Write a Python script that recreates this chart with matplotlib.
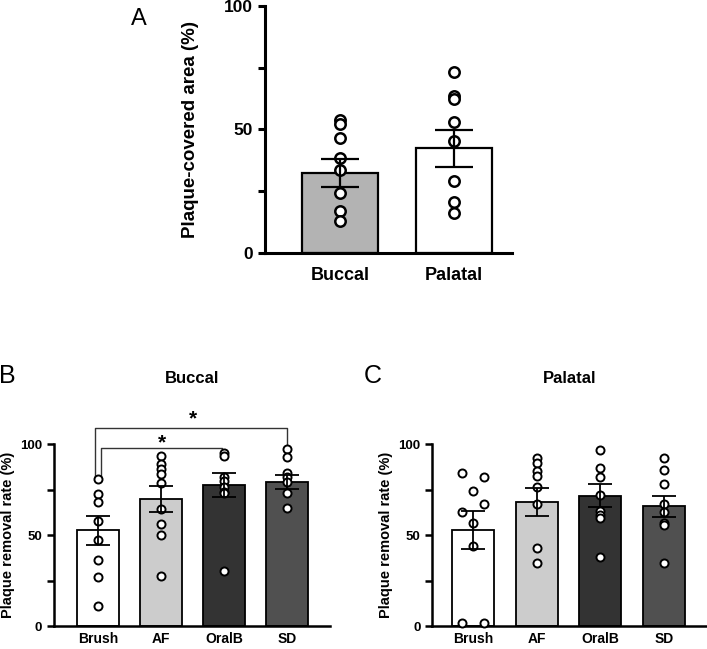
import matplotlib
matplotlib.use("Agg")
import matplotlib.pyplot as plt

plt.rcParams['font.family'] = ['Liberation Sans', 'DejaVu Sans']

# panel A: plaque-covered area
a_groups = ["Buccal", "Palatal"]
a_means = [32.4, 42.3]
a_sem = [5.5, 7.3]
a_points = [
    [53.8, 52.2, 46.5, 38.3, 33.6, 24.4, 17.1, 13.1],
    [73.4, 63.5, 62.5, 53.2, 45.5, 29.1, 20.8, 16.3],
]
a_colors = ["#b3b3b3", "#ffffff"]

# panels B and C: plaque removal rate
groups = ["Brush", "AF", "OralB", "SD"]
bar_colors = ["#ffffff", "#cccccc", "#333333", "#505050"]

buccal_means = [52.6, 69.9, 77.4, 79.3]
buccal_sem = [8.0, 7.3, 6.6, 3.7]
buccal_points = [
    [80.9, 72.7, 68.1, 57.8, 47.3, 36.3, 27.2, 11.0],
    [93.6, 89.0, 86.2, 83.7, 78.5, 64.4, 56.1, 50.1, 27.5],
    [95.4, 93.6, 82.0, 80.0, 76.7, 74.0, 73.0, 30.5],
    [97.2, 93.0, 84.0, 82.2, 79.4, 73.0, 65.1],
]

palatal_means = [52.8, 68.2, 71.8, 66.0]
palatal_sem = [10.4, 7.5, 6.1, 5.8]
palatal_points = [
    [84.4, 82.2, 74.5, 67.2, 62.9, 56.9, 44.0, 1.8, 1.8],
    [92.7, 89.5, 85.3, 82.8, 76.7, 67.0, 43.1, 34.5],
    [96.9, 86.8, 82.2, 72.1, 63.5, 61.0, 59.3, 37.8],
    [92.3, 85.9, 78.2, 67.2, 62.9, 56.9, 55.6, 34.9],
]
# horizontal spread of the Brush dots in panel C
palatal_brush_jitter = [-1, 1, 0, 1, -1, 0, 0, -1, 1]

fig = plt.figure(figsize=(7.07, 6.49), dpi=100)


def style_axis(ax, lw, tick_fs):
    ax.spines['top'].set_visible(False)
    ax.spines['right'].set_visible(False)
    ax.spines['left'].set_linewidth(lw)
    ax.spines['bottom'].set_linewidth(lw)
    ax.set_ylim(0, 100)
    ax.set_yticks([0, 50, 100])
    ax.set_yticks([25, 75], minor=True)
    ax.tick_params(axis='y', which='both', direction='out', width=lw, length=5,
                   labelsize=tick_fs)
    ax.tick_params(axis='x', length=0, labelsize=tick_fs + 0.5, pad=10)
    for lab in ax.get_yticklabels() + ax.get_xticklabels():
        lab.set_fontweight('bold')


def draw_panel(ax, means, sem, points, colors, width, ms, mew, cap, lw, jitter=None):
    x = list(range(len(means)))
    ax.bar(x, means, width=width, color=colors, edgecolor='black', linewidth=lw, zorder=2)
    for i, pts in enumerate(points):
        if jitter is not None and i == 0:
            xs = [i + 0.17 * j for j in jitter]
        else:
            xs = [i] * len(pts)
        ax.plot(xs, pts, 'o', ms=ms, mfc='white', mec='black', mew=mew, zorder=3,
                clip_on=False)
    ax.errorbar(x, means, yerr=sem, fmt='none', ecolor='black', elinewidth=lw,
                capsize=cap, capthick=lw, zorder=4)
    ax.set_xticks(x)


# ---- panel A ----
axA = fig.add_axes([0.3748, 0.6102, 0.3494, 0.3806])
draw_panel(axA, a_means, a_sem, a_points, a_colors, 0.67, 7.5, 1.8, 14, 1.6)
axA.set_xlim(-0.661, 1.515)
axA.set_xticklabels(a_groups)
style_axis(axA, 2.2, 12.5)
axA.set_ylabel("Plaque-covered area (%)", fontsize=13.5, fontweight='bold', labelpad=18)
fig.text(0.197, 0.987, "A", fontsize=17, ha='center', va='top')

# ---- panel B ----
axB = fig.add_axes([0.0764, 0.0354, 0.3904, 0.2800])
draw_panel(axB, buccal_means, buccal_sem, buccal_points, bar_colors, 0.667, 5.8, 1.4, 8.5, 1.3)
axB.set_xlim(-0.698, 3.683)
axB.set_xticklabels(groups)
style_axis(axB, 1.8, 9.5)
axB.tick_params(axis='x', pad=4)
axB.set_ylabel("Plaque removal rate (%)", fontsize=10.5, fontweight='bold', labelpad=4)
axB.set_title("Buccal", fontsize=12, fontweight='bold', pad=44)

# significance brackets
brk = dict(color='#333333', lw=1, clip_on=False)
axB.plot([-0.04, -0.04, 3, 3], [82, 108.8, 108.8, 98.7], **brk)
axB.plot([0.04, 0.04, 1.97, 1.97], [82, 97.8, 97.8, 96], **brk)
axB.text(1.5, 114, "*", fontsize=15, fontweight='bold', ha='center', va='center')
axB.text(1.02, 101, "*", fontsize=15, fontweight='bold', ha='center', va='center')
fig.text(0.011, 0.42, "B", fontsize=18, ha='center', va='center')

# ---- panel C ----
axC = fig.add_axes([0.6115, 0.0354, 0.3880, 0.2800])
draw_panel(axC, palatal_means, palatal_sem, palatal_points, bar_colors, 0.66, 5.8, 1.4, 8.5, 1.3,
           jitter=palatal_brush_jitter)
axC.set_xlim(-0.639, 3.669)
axC.set_xticklabels(groups)
style_axis(axC, 1.8, 9.5)
axC.tick_params(axis='x', pad=4)
axC.set_ylabel("Plaque removal rate (%)", fontsize=10.5, fontweight='bold', labelpad=4)
axC.set_title("Palatal", fontsize=12, fontweight='bold', pad=44)
fig.text(0.527, 0.42, "C", fontsize=18, ha='center', va='center')

fig.savefig("out.png", dpi=100)
